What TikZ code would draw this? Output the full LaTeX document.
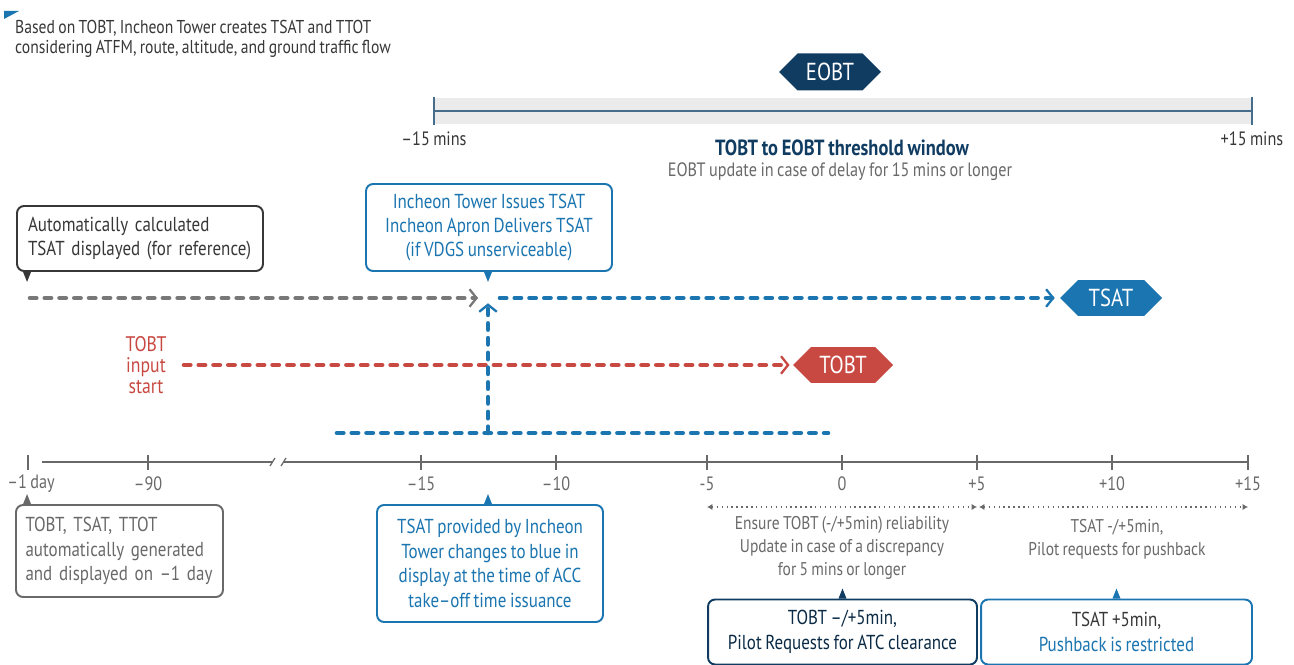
\documentclass[tikz,border=0pt]{standalone}
\usepackage{fontspec}
\setmainfont{PT Sans}[FakeStretch=0.84,WordSpace=0.8]
\usetikzlibrary{arrows.meta,shapes.symbols,calc}
\definecolor{navy}{RGB}{16,60,98}
\definecolor{tblue}{RGB}{27,117,176}
\definecolor{tred}{RGB}{200,72,66}
\definecolor{dgray}{RGB}{55,55,55}
\definecolor{mgray}{RGB}{105,105,105}
\definecolor{dashgray}{RGB}{120,120,120}
\definecolor{lgray}{RGB}{235,235,236}
\definecolor{bandline}{RGB}{70,110,140}
\tikzset{
  hexa/.style={shape=signal, signal to=west and east, signal pointer angle=90, text=white, font=\fontsize{14}{14}\selectfont, minimum width=2.04cm, minimum height=0.74cm, inner sep=0pt},
  dashline/.style={line width=2.6pt, line cap=round, dash pattern=on 3.6pt off 4.8pt},
  chev/.style={-{Straight Barb[length=4pt,width=10pt,line width=1.3pt]}},
  note/.style={draw, rounded corners=4pt, line width=1.1pt, fill=white, inner sep=0pt, align=center, font=\fontsize{11.5}{13.9}\selectfont},
  axtick/.style={line width=1.1pt, mgray},
  lab/.style={text=mgray, font=\fontsize{11}{12}\selectfont},
  expl/.style={text=mgray, align=center, font=\fontsize{10.5}{13.1}\selectfont},
  hint/.style={dotted, line width=0.8pt, mgray, {Latex[length=3pt,width=3.5pt]}-{Latex[length=3pt,width=3.5pt]}},
}
\begin{document}
\begin{tikzpicture}[x=0.02cm,y=-0.02cm]
\useasboundingbox (0,0) rectangle (1294,665);

\fill[tblue] (4,11) -- (19,11) -- (4,19) -- cycle;
\node[anchor=west, align=left, text=dgray, font=\fontsize{10.6}{11.4}\selectfont] (intro) at (9,39) {Based on TOBT, Incheon Tower creates TSAT and TTOT\\considering ATFM, route, altitude, and ground traffic flow};

\fill[lgray] (434,98) rectangle (1252,124);
\draw[line width=1.2pt, bandline] (434,111) -- (1252,111);
\draw[line width=1.2pt, bandline] (434,97) -- (434,125);
\draw[line width=1.2pt, bandline] (1252,97) -- (1252,125);
\node[hexa, fill=navy] (eobt) at (830,72) {EOBT};
\node[text=dgray, font=\fontsize{11}{12}\selectfont] (lo) at (434,139) {–15 mins};
\node[text=dgray, font=\fontsize{11}{12}\selectfont] (hi) at (1252,139) {+15 mins};
\node[text=navy, font=\bfseries\fontsize{12.5}{13}\selectfont] (window) at (842,148) {TOBT to EOBT threshold window};
\node[text=mgray, font=\fontsize{11}{12}\selectfont] (delay) at (840,172) {EOBT update in case of delay for 15 mins or longer};

\node[note, draw=dgray, text=dgray, align=left, text width=4.48cm, minimum width=4.92cm, minimum height=1.3cm] (auto) at (140,238.5) {Automatically calculated\\TSAT displayed (for reference)};
\fill[dgray] ($(auto.south west)+(7,0)$) -- ($(auto.south west)+(15,0)$) -- ($(auto.south west)+(11,10)$) -- cycle;
\node[note, draw=tblue, text=tblue, minimum width=4.92cm, minimum height=1.74cm] (issue) at (489,227.5) {Incheon Tower Issues TSAT\\Incheon Apron Delivers TSAT\\(if VDGS unserviceable)};
\fill[tblue] ($(issue.south)+(-5,0)$) -- ($(issue.south)+(3,0)$) -- ($(issue.south)+(-1,10)$) -- cycle;

\node[hexa, fill=tblue, minimum height=0.72cm] (tsat) at (1111,298) {TSAT};
\node[hexa, fill=tred, minimum width=2cm, minimum height=0.72cm] (tobt) at (843,365) {TOBT};
\node[text=tred, align=center, font=\fontsize{12}{11.8}\selectfont] (tinput) at (146,365) {TOBT\\input\\start};

\coordinate (gstart) at (30,298);
\coordinate (hub) at (488,298);
\coordinate (vbase) at (488,433);
\coordinate (rstart) at (184,365);
\coordinate (bstart) at (337,433);
\coordinate (bend) at (828,433);
\draw[dashline, dashgray, chev, shorten >=5.7pt] (gstart) -- (hub);
\draw[dashline, tblue, chev, shorten <=6.8pt, shorten >=2.8pt] (hub) -- (tsat.west);
\draw[dashline, tred, chev, shorten >=1.7pt] (rstart) -- (tobt.west);
\draw[dashline, tblue] (bstart) -- (bend);
\draw[dashline, tblue, chev, shorten >=3pt] (vbase) -- (hub);

\draw[axtick] (28,455) -- (28,470);
\draw[axtick, line width=0.9pt] (42,462) -- (272,462);
\draw[axtick, line width=0.9pt] (284,462) -- (1248,462);
\draw[axtick, line width=0.7pt] (270,466) -- (275,458);
\draw[axtick, line width=0.7pt] (281,466) -- (286,458);
\node[lab] (day) at (31,484) {–1 day};
\foreach \x/\t in {148/–90, 421/–15, 556/–10, 707/-5, 842/0, 977/+5, 1112/+10, 1248/+15} {
  \draw[axtick] (\x,455) -- (\x,470);
  \node[lab] (lab\x) at (\x,484) {\t};
}

\coordinate (d1) at (707,507);
\coordinate (d2) at (977,507);
\coordinate (d3) at (979,507);
\coordinate (d4) at (1248,507);
\draw[hint] (d1) -- (d2);
\draw[hint] (d3) -- (d4);
\node[expl] (ensure) at (842,548) {Ensure TOBT (-/+5min) reliability\\Update in case of a discrepancy\\for 5 mins or longer};
\node[expl] (req) at (1117,539) {TSAT -/+5min,\\Pilot requests for pushback};

\node[note, draw=mgray, text=mgray, align=left, text width=3.76cm, minimum width=4.14cm, minimum height=1.84cm] (gen) at (119.5,551) {TOBT, TSAT, TTOT\\automatically generated\\and displayed on –1 day};
\fill[mgray] ($(gen.north west)+(8,0)$) -- ($(gen.north west)+(16,0)$) -- ($(gen.north west)+(12,-10)$) -- cycle;
\node[note, draw=tblue, text=tblue, minimum width=4.52cm, minimum height=2.34cm] (chg) at (490,563.5) {TSAT provided by Incheon\\Tower changes to blue in\\display at the time of ACC\\take–off time issuance};
\fill[tblue] ($(chg.north)+(-6,0)$) -- ($(chg.north)+(2,0)$) -- ($(chg.north)+(-2,-10)$) -- cycle;

\node[note, draw=navy, text=navy!70!black, minimum width=5.38cm, minimum height=1.3cm] (clr) at (842.5,632) {TOBT –/+5min,\\Pilot Requests for ATC clearance};
\fill[navy] ($(clr.north)+(-4,0)$) -- ($(clr.north)+(4,0)$) -- ($(clr.north)+(0,-10)$) -- cycle;
\node[note, draw=tblue, minimum width=5.42cm, minimum height=1.3cm] (push) at (1116.5,632) {\textcolor{dgray}{TSAT +5min,}\\\textcolor{tblue}{Pushback is restricted}};
\fill[tblue] ($(push.north)+(-4,0)$) -- ($(push.north)+(4,0)$) -- ($(push.north)+(0,-10)$) -- cycle;
\end{tikzpicture}
\end{document}
